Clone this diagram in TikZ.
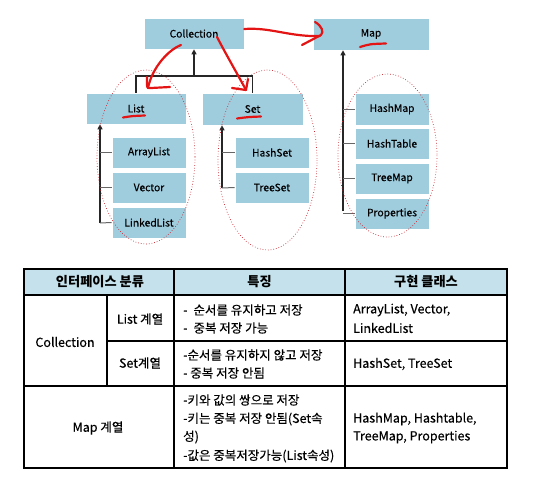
\documentclass[tikz,border=0pt]{standalone}
\usepackage{fontspec}
\setmainfont{Noto Sans CJK KR}
\newfontfamily\kfont{Noto Sans CJK KR}[FakeBold=0.3]
\usetikzlibrary{arrows.meta,calc}
\definecolor{boxblue}{RGB}{159,205,222}
\definecolor{headblue}{RGB}{197,226,236}
\definecolor{pen}{RGB}{228,20,20}
\definecolor{dotred}{RGB}{200,40,50}
\begin{document}
\begin{tikzpicture}[x=1pt,y=-1pt,
  box/.style={fill=boxblue,draw=white,line width=0.6pt,inner sep=0pt,font=\kfont\fontsize{10.3}{11}\selectfont},
  conn/.style={line width=1.1pt,draw=black!85},
  tick/.style={line width=1pt,draw=black!60},
  arr/.style={conn,-{Triangle[length=5pt,width=5pt]}},
  ell/.style={draw=dotred,dotted,line width=0.7pt},
  redpen/.style={draw=pen,line width=2.2pt,line cap=round,line join=round},
  tl/.style={line width=1.2pt},
  tt/.style={inner sep=0pt,font=\kfont\fontsize{12.5}{13}\selectfont},
  th/.style={inner sep=0pt,font=\fontsize{13.2}{14}\selectfont\bfseries}]
\useasboundingbox (0,0) rectangle (537,482);

% boxes
\node[box,minimum width=100pt,minimum height=31pt] (col) at (194,33.5) {Collection};
\node[box,minimum width=116pt,minimum height=32pt] (map) at (371,34) {Map};
\node[box,minimum width=100pt,minimum height=31pt] (list) at (136,108.5) {List};
\node[box,minimum width=101pt,minimum height=32pt] (set) at (252.5,109) {Set};
\node[box,minimum width=74pt,minimum height=31pt] (al) at (149,152.5) {ArrayList};
\node[box,minimum width=74pt,minimum height=31pt] (vec) at (149,187.5) {Vector};
\node[box,minimum width=74pt,minimum height=31pt] (ll) at (149,222.5) {LinkedList};
\node[box,minimum width=74pt,minimum height=31pt] (hs) at (272,152.5) {HashSet};
\node[box,minimum width=74pt,minimum height=31pt] (ts) at (272,187.5) {TreeSet};
\node[box,minimum width=74pt,minimum height=32pt] (hm) at (392,109) {HashMap};
\node[box,minimum width=74pt,minimum height=31pt] (ht) at (392,143.5) {HashTable};
\node[box,minimum width=74pt,minimum height=31pt] (tm) at (392,178.5) {TreeMap};
\node[box,minimum width=74pt,minimum height=31pt] (pr) at (392,213.5) {Properties};

% collection tree
\coordinate (j) at (194,76);
\draw[conn] (list.north) |- (j) -| (set.north);
\draw[arr] (j) -- (col.south);

% list
\coordinate (lb) at (100,223);
\draw[arr] (lb) -- (lb |- list.south);
\draw[tick] (al.west) -- (al.west -| lb);
\draw[tick] (vec.west) -- (vec.west -| lb);
\draw[tick] (ll.west) -- (lb);
% set
\coordinate (sb) at (222,188);
\draw[arr] (sb) -- (sb |- set.south);
\draw[tick] (hs.west) -- (hs.west -| sb);
\draw[tick] (ts.west) -- (sb);
% map
\coordinate (mb) at (343,211);
\draw[arr] (mb) -- (mb |- map.south);
\draw[tick] (hm.west) -- (hm.west -| mb);
\draw[tick] (ht.west) -- (ht.west -| mb);
\draw[tick] (tm.west) -- (tm.west -| mb);
\draw[tick] (pr.west) -- (pr.west -| mb);

% dotted ellipses
\draw[ell] (146,157) ellipse [x radius=49, y radius=87];
\draw[ell] (267.5,160) ellipse [x radius=49.5, y radius=90];
\draw[ell] (387.5,155.5) ellipse [x radius=49.5, y radius=81.5];

% red annotations
\draw[redpen] ($(col.east)+(0,-4.5)$) .. controls (270,27) and (290,37) .. ($(map.west)+(7,2)$);
\draw[redpen] (315,22) .. controls (322,26) and (324,32) .. (321,35) -- (302,45);
\draw[redpen] (181,45) .. controls (168,50) and (152,68) .. (148,88);
\draw[redpen] (147,77) -- (147,85) .. controls (147,88) .. (151,88) -- (170,87);
\draw[redpen] (217,37) .. controls (228,58) and (238,75) .. (246,90);
\draw[redpen] (232,88) -- (246,90) -- (248,79);
\draw[redpen] (123,117.5) .. controls (132,116) .. (145,115.5);
\draw[redpen] (237,118.5) .. controls (248,117) .. (261,116.5);
\draw[redpen] (360,47) .. controls (370,44) .. (386,43.5);

% table
\fill[headblue] (24,269) rectangle (507,295);
\draw[tl] (24,295) -- (507,295);
\draw[tl] (174,269) -- (174,468);
\draw[tl] (345,269) -- (345,468);
\draw[tl] (107,295) -- (107,386);
\draw[tl] (107,341) -- (507,341);
\draw[tl] (24,386) -- (507,386);
\draw[line width=1.6pt] (24,269) rectangle (507,468);

\node[th] (h1) at (100,282) {인터페이스 분류};
\node[th] (h2) at (259.5,282) {특징};
\node[th] (h3) at (426,282) {구현 클래스};

\node[tt] (c1) at (65,342) {Collection};
\node[tt] (c2) at (140,319) {List 계열};
\node[tt] (c3) at (140,363) {Set계열};
\node[tt] (c4) at (98,428) {Map 계열};

\node[tt,anchor=west] (f1) at (183,310) {-\hspace{6pt}순서를 유지하고 저장};
\node[tt,anchor=west] (f2) at (183,328) {-\hspace{6pt}중복 저장 가능};
\node[tt,anchor=west] (f3) at (183,355) {-순서를 유지하지 않고 저장};
\node[tt,anchor=west] (f4) at (183,373) {- 중복 저장 안됨};
\node[tt,anchor=west] (f5) at (183,400) {-키와 값의 쌍으로 저장};
\node[tt,anchor=west] (f6) at (183,419) {-키는 중복 저장 안됨(Set속};
\node[tt,anchor=west] (f7) at (183,437) {성)};
\node[tt,anchor=west] (f8) at (183,456) {-값은 중복저장가능(List속성)};

\node[tt,anchor=west] (i1) at (353,310) {ArrayList, Vector,};
\node[tt,anchor=west] (i2) at (353,328) {LinkedList};
\node[tt,anchor=west] (i3) at (353,364) {HashSet, TreeSet};
\node[tt,anchor=west] (i4) at (353,419) {HashMap, Hashtable,};
\node[tt,anchor=west] (i5) at (353,437) {TreeMap, Properties};
\end{tikzpicture}
\end{document}
